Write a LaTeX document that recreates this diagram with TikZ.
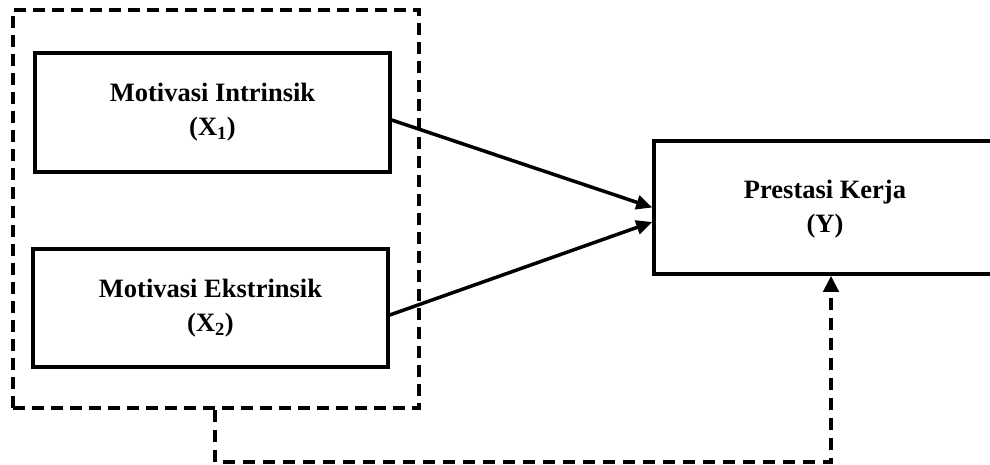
\documentclass[tikz,border=0pt]{standalone}
\usepackage{fontspec}
\setmainfont{Liberation Serif}
\usetikzlibrary{arrows.meta}
\begin{document}
\begin{tikzpicture}[x=1pt,y=-1pt,
  varbox/.style={draw=black,line width=3.5pt,rectangle,inner sep=0pt,align=center,
    font=\fontsize{26.5}{34}\selectfont\bfseries},
  dashbox/.style={draw=black,line width=4.5pt,dash pattern=on 12pt off 7pt,rectangle,inner sep=0pt},
  solidarrow/.style={line width=3.5pt,-{Triangle[length=16pt,width=14pt]}},
  dasharrow/.style={line width=4pt,dash pattern=on 12pt off 8pt,-{Triangle[length=16pt,width=15pt]}}]
\clip (0,0) rectangle (990,465);
\fill[white] (0,0) rectangle (990,465);
\node[dashbox,minimum width=406pt,minimum height=398pt] (dbox) at (216,209) {};
\node[varbox,minimum width=355pt,minimum height=119pt] (b1) at (212.5,112.5) {Motivasi Intrinsik\\(X\textsubscript{1})};
\node[varbox,minimum width=355pt,minimum height=118pt] (b2) at (210.5,308) {Motivasi Ekstrinsik\\(X\textsubscript{2})};
\node[varbox,minimum width=360pt,minimum height=133pt] (Y) at (834,207.5) {};
\node[align=center,inner sep=0pt,font=\fontsize{26.5}{34}\selectfont\bfseries] (Yt) at (825,209) {Prestasi Kerja\\(Y)};
\draw[solidarrow] ([yshift=-7.5pt]b1.east) -- ([yshift=0pt]Y.west);
\draw[solidarrow] ([yshift=-7pt]b2.east) -- ([yshift=-14.5pt]Y.west);
\coordinate (c1) at ([xshift=-1pt]dbox.south);
\draw[dasharrow] (c1) -- ++(0,52) -| ([xshift=-3pt]Y.south);
\end{tikzpicture}
\end{document}
